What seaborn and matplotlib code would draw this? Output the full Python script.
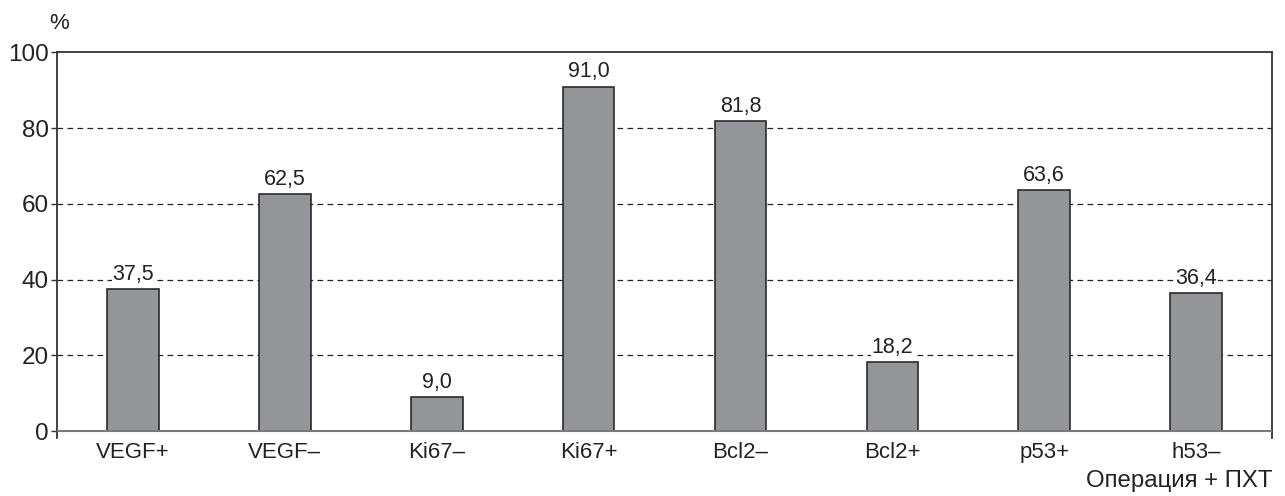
import matplotlib
matplotlib.use("Agg")
import matplotlib.pyplot as plt
import seaborn as sns
import pandas as pd

categories = ["VEGF+", "VEGF\u2013", "Ki67\u2013", "Ki67+", "Bcl2\u2013", "Bcl2+", "p53+", "h53\u2013"]
values = [37.5, 62.5, 9.0, 91.0, 81.8, 18.2, 63.6, 36.4]
y_ticks = [0, 20, 40, 60, 80, 100]

sns.set_theme(style="white")
plt.rcParams["font.family"] = ["Liberation Sans", "DejaVu Sans"]

df = pd.DataFrame({"marker": categories, "pct": values})

fig = plt.figure(figsize=(12.85, 4.96), dpi=100)
ax = fig.add_axes([0.0444, 0.1169, 0.9455, 0.7773])

sns.barplot(data=df, x="marker", y="pct", ax=ax, color="#939598",
            saturation=1, width=0.34, edgecolor="#2a2a2a", linewidth=1.2, zorder=3)

ax.set_ylim(-1.85, 100)
ax.set_xlim(-0.5, len(categories) - 0.5)
ax.set_yticks(y_ticks)
ax.set_yticklabels([str(t) for t in y_ticks], fontsize=17.5, color="#222222")
ax.tick_params(axis="y", which="both", left=True, length=4, width=1, color="#333333", pad=2)
ax.tick_params(axis="x", bottom=False, labelsize=16, labelcolor="#222222", pad=-3)
ax.set_xlabel("")
ax.set_ylabel("")

# dashed reference lines
for t in [20, 40, 60, 80]:
    ax.axhline(t, color="#222222", linestyle=(0, (4.5, 3.5)), linewidth=0.9, zorder=1)
# baseline at zero
ax.axhline(0, color="#7a7a7a", linewidth=1.5, zorder=4)

for side in ["left", "right", "top"]:
    ax.spines[side].set_visible(True)
    ax.spines[side].set_color("#333333")
    ax.spines[side].set_linewidth(1.3)
ax.spines["bottom"].set_visible(False)

labels = [f"{v:.1f}".replace(".", ",") for v in values]
ax.bar_label(ax.containers[0], labels=labels, padding=3, fontsize=15.5, color="#222222",
             bbox=dict(facecolor="white", edgecolor="none", pad=0.5), zorder=5)

fig.text(0.0458, 0.942, "%", fontsize=16, color="#222222", ha="center", va="baseline")
fig.text(0.9899, 0.018, "Операция + ПХТ", fontsize=17.3, color="#222222", ha="right", va="baseline")

fig.savefig("out.png", dpi=100)
